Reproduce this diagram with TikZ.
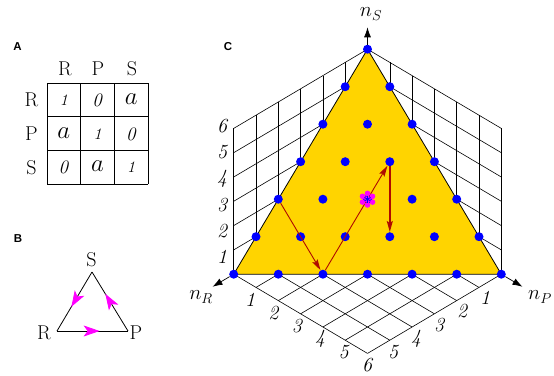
\documentclass[tikz,border=0pt]{standalone}
\usepackage{fontspec}
\newfontfamily\labfont{Liberation Sans}
\usetikzlibrary{arrows.meta,decorations.markings}
\definecolor{gold}{RGB}{255,212,0}
\definecolor{dotblue}{RGB}{0,0,255}
\definecolor{pathred}{RGB}{175,10,0}
\definecolor{mag}{RGB}{255,0,255}
\begin{document}
\begin{tikzpicture}[x=1pt,y=-1pt,
  panel/.style={font=\labfont\bfseries\fontsize{11.5}{13}\selectfont},
  big/.style={font=\fontsize{20}{24}\selectfont, inner sep=0pt},
  num/.style={font=\fontsize{20}{24}\selectfont\itshape, inner sep=0pt},
  tab/.style={line width=0.8pt},
  gridline/.style={line width=0.6pt, black},
  dot/.style={circle, fill=dotblue, inner sep=0pt, minimum size=9pt},
  redarrow/.style={pathred, line width=0.9pt, -{Stealth[length=11pt,width=6pt,inset=2pt]}},
  axisarrow/.style={black, line width=0.7pt, -{Latex[length=10pt,width=7pt]}},
  tri/.style={line width=0.8pt},
  cyc/.style={postaction={decorate}, decoration={markings,
     mark=at position #1 with {\arrow{Stealth[length=16pt,width=11pt,inset=4pt,color=mag]}}}}
]
\useasboundingbox (0,0) rectangle (554,375);

% ---------- Panel A ----------
\node[panel] (pa) at (17.5,47) {A};
\foreach \xx in {47,80.67,114.33,148} \draw[tab] (\xx,83) -- (\xx,184);
\foreach \yy in {83,116.67,150.33,184} \draw[tab] (47,\yy) -- (148,\yy);
\node[big] (cR) at (65,68.5) {R};
\node[big] (cP) at (98,68.5) {P};
\node[big] (cS) at (132,68.5) {S};
\node[big] (rR) at (31.5,100) {R};
\node[big] (rP) at (31.5,134) {P};
\node[big] (rS) at (31.5,167.5) {S};
\newcommand{\one}{{\fontsize{16}{18}\selectfont\textit{1}}}
\newcommand{\zero}{{\fontsize{19}{22}\selectfont\textit{0}}}
\newcommand{\aaa}{{\fontsize{25}{27}\selectfont$a$}}
\node (e11) at (63.8,100.5) {\one};
\node (e12) at (97.5,100.5) {\zero};
\node (e13) at (131.2,99.5) {\aaa};
\node (e21) at (63.8,133) {\aaa};
\node (e22) at (97.5,134) {\one};
\node (e23) at (131.2,134) {\zero};
\node (e31) at (63.8,167.5) {\zero};
\node (e32) at (97.5,166.5) {\aaa};
\node (e33) at (131.2,167.5) {\one};

% ---------- Panel B ----------
\node[panel] (pb) at (18,239) {B};
\coordinate (vS) at (92,272);
\coordinate (vR) at (57,331);
\coordinate (vP) at (128,331);
\node[big] (lS) at (91.5,259.5) {S};
\node[big] (lR) at (44,332.5) {R};
\node[big] (lP) at (136,332.5) {P};
\draw[tri, cyc=0.6] (vR) -- (vP);
\draw[tri, cyc=0.63] (vP) -- (vS);
\draw[tri, cyc=0.59] (vS) -- (vR);

% ---------- Panel C ----------
\node[panel] (pc) at (228,47) {C};
\begin{scope}[shift={(367.5,195)}, x={(-22.3pt,-13.2pt)}, y={(22.3pt,-13.2pt)}, z={(0pt,24.3pt)}]
  \foreach \k in {1,...,6} {
    % bottom plane
    \draw[gridline] (\k,0,0) -- (\k,6,0);
    \draw[gridline] (0,\k,0) -- (6,\k,0);
    % left wall
    \draw[gridline] (\k,0,0) -- (\k,0,6);
    \draw[gridline] (0,0,\k) -- (6,0,\k);
    % right wall
    \draw[gridline] (0,\k,0) -- (0,\k,6);
    \draw[gridline] (0,0,\k) -- (0,6,\k);
  }
  \filldraw[fill=gold, draw=black, line width=0.8pt] (6,0,0) -- (0,6,0) -- (0,0,6) -- cycle;
  \coordinate (tR) at (6.95,0,0);
  \coordinate (tP) at (0,6.95,0);
  \coordinate (tS) at (0,0,6.9);
  \foreach \r in {0,...,6} {
    \pgfmathtruncatemacro\pmax{6-\r}
    \foreach \p in {0,...,\pmax} {
      \pgfmathtruncatemacro\s{6-\r-\p}
      \node[dot] (d\r\p\s) at (\r,\p,\s) {};
    }
  }
\end{scope}
\draw[axisarrow] (d600) -- (tR);
\draw[axisarrow] (d060) -- (tP);
\draw[axisarrow] (d006) -- (tS);
\node[big] (nS) at (371,14) {$n_S$};
\node[big] (nR) at (201,297) {$n_R$};
\node[big] (nP) at (540,297) {$n_P$};

% path arrows
\draw[redarrow] (d402) -- (d420);
\draw[redarrow] (d420) -- (d123);
\draw[redarrow, line width=1.4pt] (d123) -- (d231);

% star at centre
\foreach \a in {30,90,150} {
  \draw[mag, line width=2pt] (d222.center) ++(\a:5.8pt) -- ++(\a+180:11.6pt);
}
\foreach \a in {30,90,150,210,270,330} {
  \fill[mag] (d222.center) ++(\a:5.8pt) circle (2.8pt);
}
\fill[mag] (d222.center) circle (3pt);
\foreach \a in {30,90,150} {
  \draw[dotblue, line width=0.9pt] (d222.center) ++(\a:3.5pt) -- ++(\a+180:7pt);
}

% axis numbers
\foreach \k in {1,...,6} {
  \node[num] (ls\k) at (222,{283.2-26.2*\k}) {\k};
  \node[num] (lr\k) at ({226.6+23.4*\k},{287+13*\k}) {\k};
}
\foreach \k in {1,...,5} {
  \node[num] (lp\k) at ({508-23*\k},{284+13.7*\k}) {\k};
}
\end{tikzpicture}
\end{document}
